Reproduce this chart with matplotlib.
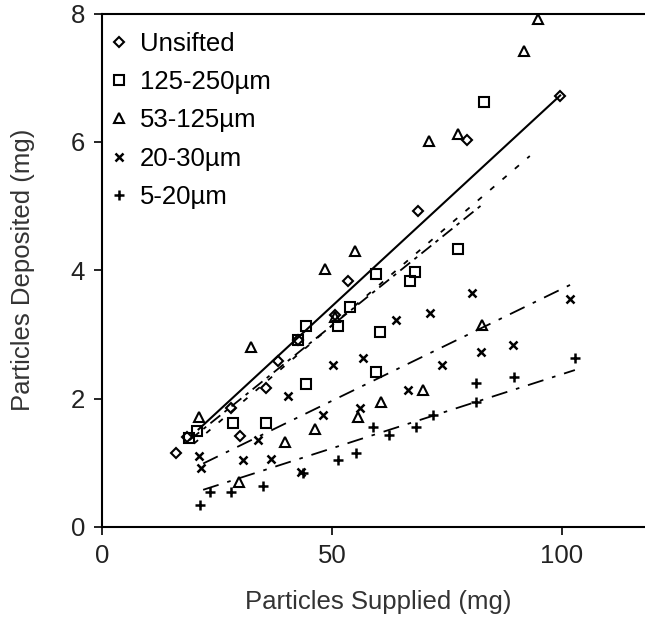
import numpy as np
import matplotlib
matplotlib.use("Agg")
import matplotlib.pyplot as plt

plt.rcParams['font.family'] = ['Liberation Sans', 'DejaVu Sans']

# data (particles supplied mg, particles deposited mg)
unsifted_x = [16, 18.4, 28, 30, 35.7, 38.3, 42.6, 50.6, 53.5, 68.6, 79.4, 99.6]
unsifted_y = [1.15, 1.4, 1.85, 1.42, 2.17, 2.58, 2.92, 3.3, 3.83, 4.92, 6.03, 6.72]

s125_x = [19, 20.6, 28.5, 35.7, 42.6, 44.4, 44.4, 51.3, 54, 59.5, 60.4, 59.5, 66.9, 68, 77.3, 83]
s125_y = [1.38, 1.5, 1.62, 1.62, 2.92, 2.22, 3.13, 3.13, 3.42, 2.42, 3.03, 3.94, 3.83, 3.97, 4.33, 6.62]

s53_x = [21, 29.7, 32.5, 39.8, 46.3, 48.5, 50.6, 55, 55.6, 60.6, 69.7, 71, 77.5, 82.7, 91.8, 94.8]
s53_y = [1.72, 0.7, 2.8, 1.33, 1.52, 4.02, 3.27, 4.3, 1.72, 1.94, 2.14, 6.02, 6.12, 3.14, 7.42, 7.92]

s20_x = [21, 21.6, 30.7, 34, 36.8, 40.5, 43.3, 48, 50.2, 56, 56.7, 63.9, 66.5, 71.4, 74, 80.5, 82.3, 89.4, 101.7]
s20_y = [1.1, 0.92, 1.05, 1.35, 1.06, 2.04, 0.85, 1.75, 2.53, 1.86, 2.64, 3.23, 2.14, 3.34, 2.53, 3.65, 2.73, 2.84, 3.55]

s5_x = [21.4, 23.4, 28, 35, 43.7, 51.3, 55.2, 58.9, 62.5, 68.2, 71.9, 81.2, 81.2, 89.6, 102.8]
s5_y = [0.34, 0.55, 0.55, 0.64, 0.84, 1.05, 1.15, 1.55, 1.44, 1.55, 1.75, 1.95, 2.25, 2.34, 2.64]

labels = ['Unsifted', '125-250\u00b5m', '53-125\u00b5m', '20-30\u00b5m', '5-20\u00b5m']

# fitted lines: slope, intercept, x range
fit_slope = [0.0662, 0.0577, 0.0614, 0.0349, 0.0231]
fit_icept = [0.13, 0.254, 0.07, 0.22, 0.07]
fit_xmin = [21, 19, 20, 22, 22]
fit_xmax = [99.6, 82.3, 93, 102.2, 102.8]

xs = [unsifted_x, s125_x, s53_x, s20_x, s5_x]
ys = [unsifted_y, s125_y, s53_y, s20_y, s5_y]
markers = ['D', 's', '^', 'x', '+']
msizes = [5, 7, 7.5, 6, 7]
linestyles = ['-', (0, (7, 3, 2, 3)), (0, (3, 6)), (0, (9, 5, 2, 5)), (0, (9, 5, 2, 5))]

fig = plt.figure(figsize=(6.45, 6.17), dpi=100)
ax = fig.add_axes([0.158, 0.146, 0.856, 0.832])

for i in range(5):
    filled = markers[i] in ('x', '+')
    ax.plot(xs[i], ys[i], linestyle='none', marker=markers[i], markersize=msizes[i],
            markerfacecolor='none' if not filled else 'black', markeredgecolor='black',
            markeredgewidth=1.5 if not filled else 1.8, label=labels[i])
    fx = np.array([fit_xmin[i], fit_xmax[i]])
    ax.plot(fx, fit_slope[i] * fx + fit_icept[i], color='black',
            linewidth=1.5 if i == 0 else 1.3, linestyle=linestyles[i])

ax.set_xlim(0, 120)
ax.set_ylim(0, 8)
ax.set_xticks([0, 50, 100])
ax.set_yticks([0, 2, 4, 6, 8])
ax.tick_params(labelsize=18.5, direction='out', length=6, width=1.2,
               colors='black', labelcolor='#222222')
ax.tick_params(axis='x', pad=6)
ax.tick_params(axis='y', pad=6)
for s in ['left', 'bottom', 'top']:
    ax.spines[s].set_linewidth(1.5)
ax.spines['right'].set_visible(False)
ax.set_xlabel('Particles Supplied (mg)', fontsize=18.5, color='#333333', labelpad=16)
ax.set_ylabel('Particles Deposited (mg)', fontsize=18.5, color='#333333', labelpad=26)

ax.legend(loc='upper left', frameon=False, fontsize=18.5, handlelength=0.8,
          handletextpad=0.4, labelspacing=0.56, borderaxespad=0.3,
          bbox_to_anchor=(-0.02, 1.0))

fig.savefig('out.png', dpi=100)
